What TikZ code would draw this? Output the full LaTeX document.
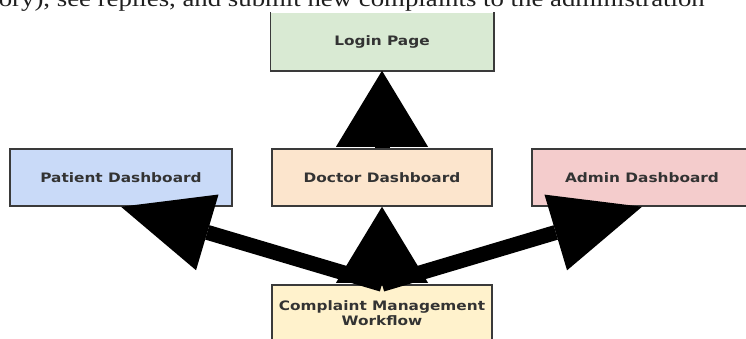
\documentclass[tikz,border=0pt]{standalone}
\usepackage{fontspec}
\setmainfont{Liberation Serif}
\newfontfamily\headfont{Liberation Serif}[FakeStretch=1.18]
\newfontfamily\boxfont{DejaVu Sans}[FakeStretch=1.18]
\usetikzlibrary{arrows.meta}

\definecolor{loginfill}{HTML}{D9EAD3}
\definecolor{doctorfill}{HTML}{FCE5CD}
\definecolor{patientfill}{HTML}{C9DAF8}
\definecolor{adminfill}{HTML}{F4CCCC}
\definecolor{workflowfill}{HTML}{FFF2CC}
\definecolor{boxline}{HTML}{3A3A3A}
\definecolor{boxtext}{HTML}{333333}

\tikzset{
  panel/.style={draw=boxline, line width=1.5pt, inner sep=0pt,
    minimum width=220pt, minimum height=57pt, align=center,
    text=boxtext, font=\boxfont\bfseries\fontsize{13pt}{15pt}\selectfont},
  flowup/.style={line width=15pt, black,
    -{Triangle[length=76pt, width=92pt, line width=0pt]}},
  flowside/.style={line width=15pt, black,
    -{Triangle[length=90pt, width=79pt, line width=0pt]}}
}

\begin{document}
\begin{tikzpicture}[x=1pt, y=-1pt]
  \useasboundingbox (0,0) rectangle (746,338);
  \fill[white] (0,0) rectangle (746,338);

  % running text above the chart
  \node[anchor=base east, inner sep=0pt, font=\headfont\fontsize{22.7pt}{26pt}\selectfont, text=black!88]
    (caption) at (705,6.5) {ory), see replies, and submit new complaints to the administration};

  % login box, its upper edge runs under the text line
  \node[panel, draw=none, fill=loginfill, minimum width=222pt] (login) at (382,41.5) {Login Page};
  \draw[boxline, line width=1.5pt] (login.north west) -- (login.south west)
    -- (login.south east) -- (login.north east);

  \node[panel, fill=patientfill, minimum width=222pt] (patient) at (121,177.5) {Patient Dashboard};
  \node[panel, fill=doctorfill] (doctor) at (382,177.5) {Doctor Dashboard};
  \node[panel, fill=adminfill] (admin) at (642,177.5) {Admin Dashboard};
  \node[panel, fill=workflowfill] (workflow) at (382,313.5) {Complaint Management\\Workflow};

  % connectors
  \draw[flowup] (doctor.north) -- (login.south);
  \draw[flowup] (workflow.north) -- (doctor.south);
  \draw[flowside] (workflow.north) -- (patient.south);
  \draw[flowside] (workflow.north) -- (admin.south);
\end{tikzpicture}
\end{document}
